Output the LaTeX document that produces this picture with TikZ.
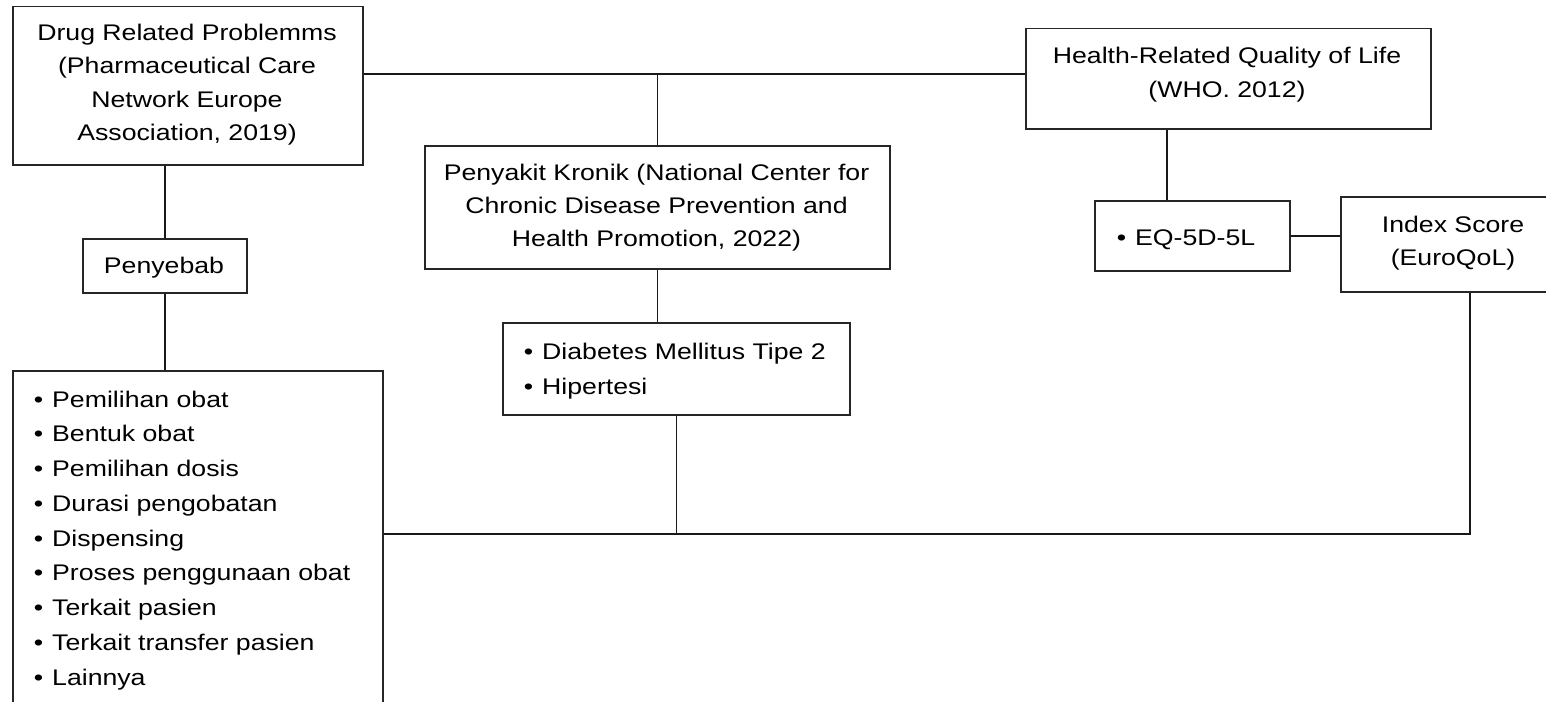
\documentclass[tikz,border=0pt]{standalone}
\usepackage{fontspec}
\setmainfont{Liberation Sans}[FakeStretch=1.18]
\newcommand{\bul}{\llap{•\hspace{9pt}}}
\begin{document}
\begin{tikzpicture}[x=1pt,y=-1pt,
  box/.style={draw=black!85, line width=1.5pt, rectangle, inner sep=0pt, anchor=north west},
  txt/.style={inner sep=0pt, anchor=base, font=\fontsize{22.6}{26}\selectfont},
  ltxt/.style={txt, anchor=base west},
  conn/.style={draw=black!90, line width=1.5pt}]
\useasboundingbox (0,0) rectangle (1546,701);
\clip (0,0) rectangle (1546,701);
\fill[white] (0,0) rectangle (1546,701);
% boxes
\node[box, minimum width=350pt, minimum height=158pt] (drp) at (12,6) {};
\node[box, minimum width=164pt, minimum height=54pt] (pen) at (82,238) {};
\node[box, minimum width=370pt, minimum height=350pt] (lst) at (12,370) {};
\node[box, minimum width=465pt, minimum height=123pt] (pk) at (424,145) {};
\node[box, minimum width=347pt, minimum height=92pt] (db) at (502,322) {};
\node[box, minimum width=405pt, minimum height=100pt] (hq) at (1025,28) {};
\node[box, minimum width=195pt, minimum height=70pt] (eq) at (1094,200) {};
\node[box, minimum width=226pt, minimum height=95pt] (idx) at (1340,196) {};
% helper coordinates
\coordinate (hl) at (0,74);
\coordinate (bl) at (0,534);
\coordinate (bx) at (1470,534);
\coordinate (qx) at (1167,0);
% connectors
\draw[conn] (drp.east |- hl) -- (hq.west |- hl);
\draw[conn] (pk.north) -- (pk.north |- hl);
\draw[conn] (pen.north) -- (pen.north |- drp.south);
\draw[conn] (pen.south) -- (pen.south |- lst.north);
\draw[conn] (pk.south) -- (pk.south |- db.north);
\draw[conn] (db.south) -- (db.south |- bl);
\draw[conn] (lst.east |- bl) -- (bx) -- (bx |- idx.south);
\draw[conn] (hq.south -| qx) -- (eq.north -| qx);
\draw[conn] (eq.east) -- (eq.east -| idx.west);
% texts
\node[txt] (t1) at (187,41) {Drug Related Problemms};
\node[txt] (t2) at (187,74) {(Pharmaceutical Care};
\node[txt] (t3) at (187,107) {Network Europe};
\node[txt] (t4) at (187,140) {Association, 2019)};
\node[txt] (t5) at (164,273) {Penyebab};
\node[txt] (t6) at (656.5,180) {Penyakit Kronik (National Center for};
\node[txt] (t7) at (656.5,213) {Chronic Disease Prevention and};
\node[txt] (t8) at (656.5,246) {Health Promotion, 2022)};
\node[txt] (t9) at (1227,63.5) {Health-Related Quality of Life};
\node[txt] (t10) at (1227,97) {(WHO. 2012)};
\node[ltxt] (t11) at (1135,245) {\bul EQ-5D-5L};
\node[txt] (t12) at (1453,232) {Index Score};
\node[txt] (t13) at (1453,265) {(EuroQoL)};
\node[ltxt] (t14) at (542,359) {\bul Diabetes Mellitus Tipe 2};
\node[ltxt] (t15) at (542,394) {\bul Hipertesi};
\foreach \s [count=\i from 0] in {Pemilihan obat, Bentuk obat, Pemilihan dosis, Durasi pengobatan, Dispensing, Proses penggunaan obat, Terkait pasien, Terkait transfer pasien, Lainnya}
  \node[ltxt] (li\i) at (52,407+34.75*\i) {\bul \s};
\end{tikzpicture}
\end{document}
